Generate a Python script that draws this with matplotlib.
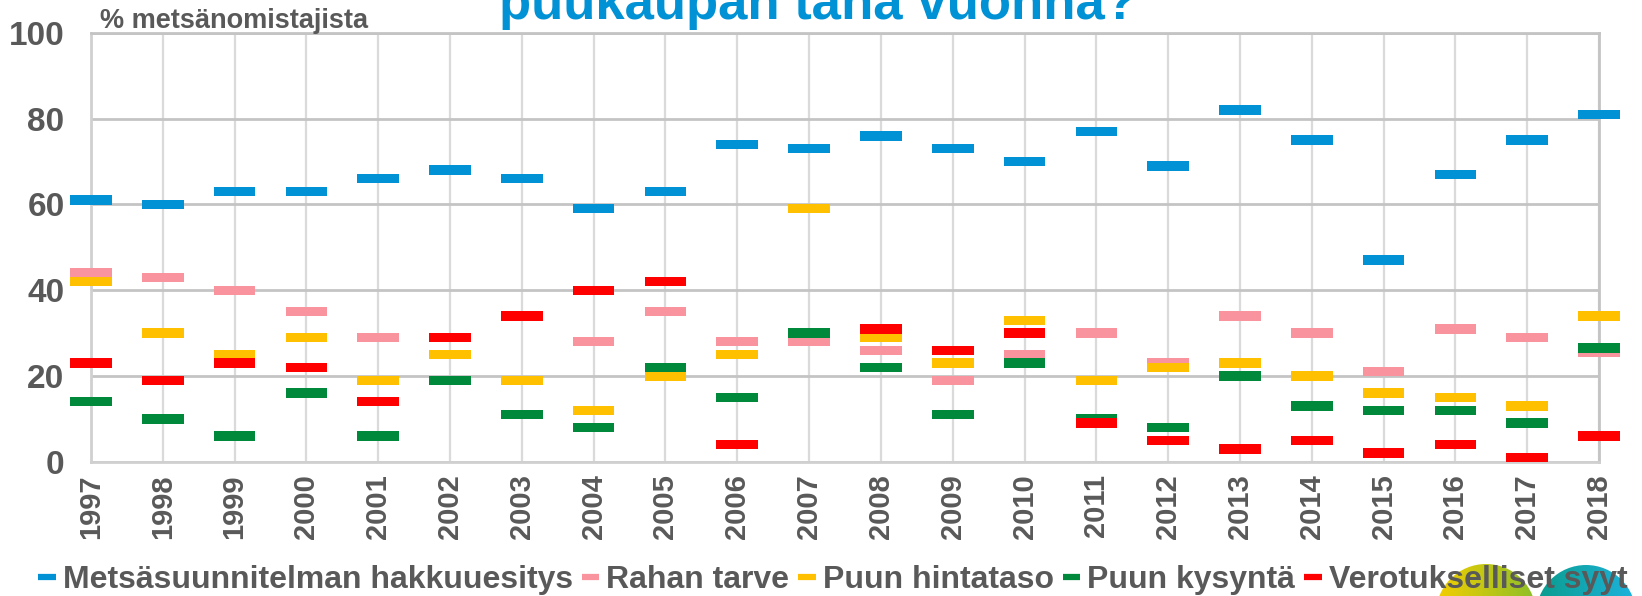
import numpy as np
import matplotlib
matplotlib.use('Agg')
import matplotlib.pyplot as plt
from matplotlib.lines import Line2D
from matplotlib.patches import Circle
from matplotlib.colors import LinearSegmentedColormap

plt.rcParams['font.family'] = ['Liberation Sans', 'DejaVu Sans']

years = list(range(1997, 2019))

# % metsänomistajista, None = ei näy kuvassa
hakkuuesitys = [61, 60, 63, 63, 66, 68, 66, 59, 63, 74, 73, 76, 73, 70, 77, 69, 82, 75, 47, 67, 75, 81]
rahan_tarve = [44, 43, 40, 35, 29, None, None, 28, 35, 28, 28, 26, 19, 25, 30, 23, 34, 30, 21, 31, 29, 25.5]
hintataso = [42, 30, 25, 29, 19, 25, 19, 12, 20, 25, 59, 29, 23, 33, 19, 22, 23, 20, 16, 15, 13, 34]
kysynta = [14, 10, 6, 16, 6, 19, 11, 8, 22, 15, 30, 22, 11, 23, 10, 8, 20, 13, 12, 12, 9, 26.5]
verotus = [23, 19, 23, 22, 14, 29, 34, 40, 42, 4, None, 31, 26, 30, 9, 5, 3, 5, 2, 4, 1, 6]

series_names = ['Metsäsuunnitelman hakkuuesitys', 'Rahan tarve', 'Puun hintataso',
                'Puun kysyntä', 'Verotukselliset syyt']
series_vals = [hakkuuesitys, rahan_tarve, hintataso, kysynta, verotus]
colors = ['#0092D4', '#F9939E', '#FFC000', '#00893A', '#FF0000']

grey = '#595959'

fig = plt.figure(figsize=(16.42, 5.96), dpi=100)

# logo kulmassa (piirretään ensin, legendan taakse)
logo_ax = fig.add_axes([0, 0, 1, 1], zorder=-1)
logo_ax.set_xlim(0, 1642)
logo_ax.set_ylim(596, 0)
logo_ax.axis('off')
grad = np.linspace(0, 1, 256).reshape(1, -1)
for (cx, cy, c1, c2) in [(1486, 614, '#F4CE00', '#8CBF2A'), (1586, 615, '#0A9C8C', '#1DB3DE')]:
    circ = Circle((cx, cy), 50, transform=logo_ax.transData, facecolor='none', edgecolor='none')
    logo_ax.add_patch(circ)
    cmap = LinearSegmentedColormap.from_list('g', [c1, c2])
    im = logo_ax.imshow(grad, cmap=cmap, extent=(cx - 50, cx + 50, cy + 50, cy - 50),
                        aspect='auto', interpolation='bilinear')
    im.set_clip_path(circ)

ax = fig.add_axes([91 / 1642, 134.3 / 596, 1508 / 1642, 428.7 / 596])

bar_h = 2.2
for vals, c in zip(series_vals, colors):
    xs = [y for y, v in zip(years, vals) if v is not None]
    vs = [v for v in vals if v is not None]
    ax.bar(xs, [bar_h] * len(vs), bottom=[v - bar_h / 2 for v in vs], width=0.58,
           color=c, zorder=3, clip_on=False)

ax.set_xlim(1997, 2018)
ax.set_ylim(0, 100)
ax.set_yticks(range(0, 101, 20))
ax.set_xticks(years)
ax.set_xticklabels([str(y) for y in years], rotation=90, fontsize=21, fontweight='bold', color=grey)
for lab in ax.get_yticklabels():
    lab.set_fontsize(24)
    lab.set_fontweight('bold')
    lab.set_color(grey)
ax.tick_params(axis='both', length=0)
ax.tick_params(axis='y', pad=19)
ax.tick_params(axis='x', pad=9)

ax.grid(axis='y', color='#c4c4c4', linewidth=2, zorder=0)
ax.grid(axis='x', color='#dadada', linewidth=1.6, zorder=0)
for side in ['left', 'bottom']:
    ax.spines[side].set_color('#d0d0d0')
    ax.spines[side].set_linewidth(2)
for side in ['top', 'right']:
    ax.spines[side].set_color('#c4c4c4')
    ax.spines[side].set_linewidth(2)

fig.text(100 / 1642, 1 - 28 / 596, '% metsänomistajista', fontsize=19.5, fontweight='bold',
         color=grey, va='baseline', ha='left')
fig.text(818 / 1642, 1 - 19 / 596, 'puukaupan tänä vuonna?', fontsize=38, fontweight='bold',
         color='#0092D4', va='baseline', ha='center')

handles = [Line2D([], [], color=c, linewidth=4.5, solid_capstyle='butt') for c in colors]
leg = fig.legend(handles, series_names, loc='center left', bbox_to_anchor=(38 / 1642, 1 - 580 / 596),
                 ncol=5, frameon=False, handlelength=0.55, handletextpad=0.22, columnspacing=0.28,
                 prop={'size': 23, 'weight': 'bold'}, borderaxespad=0, borderpad=0)
for t in leg.get_texts():
    t.set_color(grey)

fig.savefig('out.png', dpi=100)
